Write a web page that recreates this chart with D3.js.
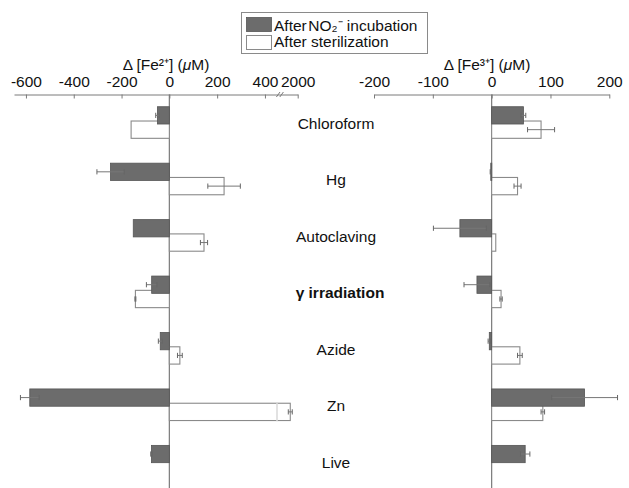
<!DOCTYPE html>
<html>
<head>
<meta charset="utf-8">
<script src="https://cdn.jsdelivr.net/npm/d3@7"></script>
<style>
  body { margin: 0; background: #fff; }
  svg text { font-family: "Liberation Sans", Arial, sans-serif; fill: #111; }
</style>
</head>
<body>
<svg id="chart" width="629" height="488"></svg>
<script>
// DATA
var categories = ['Chloroform', 'Hg', 'Autoclaving', 'γ irradiation', 'Azide', 'Zn', 'Live'];

// Δ[Fe2+] (µM)
var fe2Incub    = [-50, -246, -151, -74, -38, -584, -75];
var fe2IncubErr = [7, 57, 0, 22, 8, 39, 3];
var fe2Steril    = [-160, 229, 145, -142, 44, 1955, null];
var fe2SterilErr = [0, 68, 15, 2, 10, 12, 0];

// Δ[Fe3+] (µM)
var fe3Incub    = [54, -1.5, -54, -25, -4, 158, 57];
var fe3IncubErr = [4, 1, 45, 22, 2, 56, 8];
var fe3Steril    = [84, 44, 7, 16, 48, 87, null];
var fe3SterilErr = [23, 6, 0, 2, 4, 3, 0];

var fe2Ticks = [-600, -400, -200, 0, 200, 400];
var fe2HiTicks = [2000];
var fe3Ticks = [-200, -100, 0, 100, 200];

// SETUP
var svg = d3.select('#chart');
var axisY = 94.5;
var axisColor = '#7a7a7a';
var grayFill = '#6c6c6c';

var y = d3.scaleBand()
            .domain(categories)
            .range([94.3, 489.4]);

// broken axis for Fe2+
var xLo = d3.scaleLinear().domain([-650, 468]).range([14, 281.2]);
var xHi = d3.scaleLinear().domain([1900, 2000]).range([281.2, 297.7]);
function xFe2(v) { return v > 468 ? xHi(v) : xLo(v); }

var xFe3 = d3.scaleLinear().domain([-200, 200]).range([374, 609.3]);

// AXES
function styleAxis(g) {
    g.selectAll('path.domain').style('stroke', axisColor);
    g.selectAll('.tick line').style('stroke', axisColor);
    g.selectAll('.tick text')
        .style('font-size', '15.5px')
        .style('font-family', '"Liberation Sans", Arial, sans-serif')
        .style('fill', '#111');
}

svg.append('g')
    .attr('transform', 'translate(0,' + axisY + ')')
    .call(d3.axisTop(xLo).tickValues(fe2Ticks).tickSizeInner(-4).tickSizeOuter(0).tickPadding(8))
    .call(styleAxis);
svg.append('g')
    .attr('transform', 'translate(0,' + axisY + ')')
    .call(d3.axisTop(xHi).tickValues(fe2HiTicks).tickSizeInner(-4).tickSizeOuter(0).tickPadding(8))
    .call(styleAxis);

// axis break marks
[278.2, 281.6].forEach(function(bx) {
    svg.append('line')
        .attr('x1', bx - 1.8).attr('y1', axisY + 2.5)
        .attr('x2', bx + 1.8).attr('y2', axisY - 2.5)
        .style('stroke', axisColor).style('stroke-width', 1);
});

svg.append('g')
    .attr('transform', 'translate(0,' + axisY + ')')
    .call(d3.axisTop(xFe3).tickValues(fe3Ticks).tickSizeInner(-4).tickSizeOuter(0).tickPadding(8))
    .call(styleAxis);

// plain hyphen minus signs like the reference
svg.selectAll('.tick text').text(function(d) { return String(d); });

// Axis titles
function axisTitle(cx, ion) {
    var t = svg.append('text')
                .attr('x', cx)
                .attr('y', 69.5)
                .attr('text-anchor', 'middle')
                .style('font-size', '15.5px');
    t.append('tspan').text('Δ [Fe');
    t.append('tspan').text(ion);
    t.append('tspan').text('] (');
    t.append('tspan').text('μ').style('font-style', 'italic');
    t.append('tspan').text('M)');
}
axisTitle(166, '²⁺');
axisTitle(487, '³⁺');

// ZERO LINES
svg.append('line')
    .attr('x1', xFe2(0)).attr('x2', xFe2(0))
    .attr('y1', axisY).attr('y2', 488)
    .style('stroke', axisColor).style('stroke-width', 1.2);
svg.append('line')
    .attr('x1', xFe3(0)).attr('x2', xFe3(0))
    .attr('y1', axisY).attr('y2', 488)
    .style('stroke', axisColor).style('stroke-width', 1.2);

// BARS
var barH = 17.3;
function drawPanel(xs, incub, incubErr, steril, sterilErr) {
    var g = svg.append('g');

    // sterilization bars (white, lower)
    categories.forEach(function(c, i) {
        if (steril[i] === null) return;
        var cy = y(c) + y.bandwidth() / 2;
        var x0 = xs(0), x1 = xs(steril[i]);
        g.append('rect')
            .attr('x', Math.min(x0, x1))
            .attr('y', cy - 1.5)
            .attr('width', Math.abs(x1 - x0))
            .attr('height', barH)
            .style('fill', '#fff')
            .style('stroke', '#8a8a8a')
            .style('stroke-width', 1.1);
    });

    // incubation bars (gray, upper)
    categories.forEach(function(c, i) {
        var cy = y(c) + y.bandwidth() / 2;
        var x0 = xs(0), x1 = xs(incub[i]);
        g.append('rect')
            .attr('x', Math.min(x0, x1))
            .attr('y', cy - 15.8)
            .attr('width', Math.max(Math.abs(x1 - x0), 1))
            .attr('height', barH)
            .style('fill', grayFill)
            .style('stroke', '#555')
            .style('stroke-width', 0.8);
    });

    // error bars
    function errBar(v, e, ey) {
        if (!e) return;
        var a = xs(v - e), b = xs(v + e);
        g.append('line')
            .attr('x1', a).attr('x2', b).attr('y1', ey).attr('y2', ey)
            .style('stroke', '#777').style('stroke-width', 1);
        [a, b].forEach(function(px) {
            g.append('line')
                .attr('x1', px).attr('x2', px).attr('y1', ey - 2.6).attr('y2', ey + 2.6)
                .style('stroke', '#666').style('stroke-width', 1);
        });
    }
    categories.forEach(function(c, i) {
        var cy = y(c) + y.bandwidth() / 2;
        errBar(incub[i], incubErr[i], cy - 15.8 + barH / 2);
        if (steril[i] !== null) errBar(steril[i], sterilErr[i], cy - 1.5 + barH / 2);
    });
}

drawPanel(xFe2, fe2Incub, fe2IncubErr, fe2Steril, fe2SterilErr);
drawPanel(xFe3, fe3Incub, fe3IncubErr, fe3Steril, fe3SterilErr);

// bar break mark on the long Zn bar
var znY = y('Zn') + y.bandwidth() / 2 - 1.5;
svg.append('line')
    .attr('x1', 277).attr('x2', 277)
    .attr('y1', znY - 0.8).attr('y2', znY + barH + 0.8)
    .style('stroke', '#d8d8d8').style('stroke-width', 1.5);

// CATEGORY LABELS
svg.selectAll('text.cat')
    .data(categories)
    .enter()
    .append('text')
    .attr('class', 'cat')
    .attr('x', function(d) { return d === 'γ irradiation' ? 340 : 336; })
    .attr('y', function(d) { return y(d) + y.bandwidth() / 2 + 6.5; })
    .attr('text-anchor', 'middle')
    .style('font-size', '15.5px')
    .style('font-weight', function(d) { return d === 'γ irradiation' ? 'bold' : 'normal'; })
    .text(function(d) { return d; });

// LEGEND
var legend = svg.append('g');
legend.append('rect')
    .attr('x', 241.5).attr('y', 12.5).attr('width', 186).attr('height', 41)
    .style('fill', '#fff').style('stroke', '#8a8a8a').style('stroke-width', 1);
legend.append('rect')
    .attr('x', 246.5).attr('y', 17.5).attr('width', 25).attr('height', 14)
    .style('fill', grayFill).style('stroke', '#555').style('stroke-width', 0.8);
legend.append('rect')
    .attr('x', 246.5).attr('y', 35.5).attr('width', 25).attr('height', 14)
    .style('fill', '#fff').style('stroke', '#8a8a8a').style('stroke-width', 1);

var l1 = legend.append('text')
            .attr('x', 274).attr('y', 30.5)
            .style('font-size', '15.5px');
l1.append('tspan').text('After');
l1.append('tspan').text('NO₂⁻').attr('dx', 1.5);
l1.append('tspan').text(' incubation');

legend.append('text')
    .attr('x', 274).attr('y', 47)
    .style('font-size', '15.5px')
    .text('After sterilization');
</script>
</body>
</html>
